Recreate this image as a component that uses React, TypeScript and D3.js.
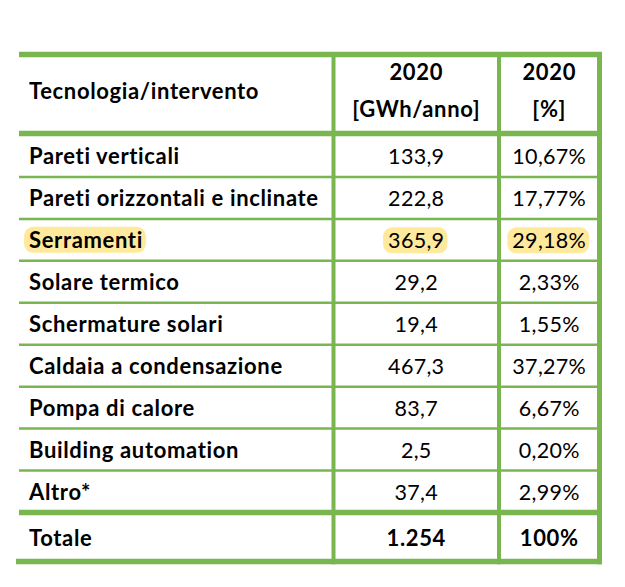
import React, { useEffect, useRef } from "react";
import * as d3 from "d3";

// Table contents
const headerLabel = "Tecnologia/intervento";
const headerYears = ["2020", "2020"];
const headerUnits = ["[GWh/anno]", "[%]"];

const technologies = [
  "Pareti verticali",
  "Pareti orizzontali e inclinate",
  "Serramenti",
  "Solare termico",
  "Schermature solari",
  "Caldaia a condensazione",
  "Pompa di calore",
  "Building automation",
  "Altro*",
];
const energyGwh = [133.9, 222.8, 365.9, 29.2, 19.4, 467.3, 83.7, 2.5, 37.4];
const sharePct = [10.67, 17.77, 29.18, 2.33, 1.55, 37.27, 6.67, 0.2, 2.99];

const totalLabel = "Totale";
const totalGwh = 1254;
const totalPct = 100;

const highlighted = ["Serramenti"];

const itLocale = d3.formatLocale({
  decimal: ",",
  thousands: ".",
  grouping: [3],
  currency: ["", " €"],
});
const fmtGwh = itLocale.format(",.1f");
const fmtPct = (v: number) => itLocale.format(",.2f")(v) + "%";
const fmtTotal = itLocale.format(",.0f");

const GREEN = "#7AB650";
const HILITE = "#FFE99C";
const FONT = "Lato, 'Open Sans', sans-serif";

const App = () => {
  const svgRef = useRef<SVGSVGElement>(null);

  useEffect(() => {
    const svg = d3.select(svgRef.current);
    svg.selectAll("*").remove();

    const width = 625;
    const height = 587;
    const tableLeft = 19;
    const tableRight = 602;
    const cols = [tableLeft, 333.5, 499, 599.5];
    const topY = 54.5;
    const headBottomY = 133.5;
    const bodyTop = 135;
    const bodyBottom = 512.5;
    const bottomY = 561.5;

    const y = d3.scaleBand<string>().domain(technologies).range([bodyTop, bodyBottom]);
    const colCenter = [0, (cols[1] + cols[2]) / 2, (cols[2] + cols[3]) / 2];
    const textX = 29;

    // bold / regular text styles
    const bold = (s: d3.Selection<SVGTextElement, any, any, any>) =>
      s.attr("font-weight", 700).attr("font-size", 22).attr("letter-spacing", 0.65);
    const plain = (s: d3.Selection<SVGTextElement, any, any, any>) =>
      s.attr("font-weight", 400).attr("font-size", 21.5).attr("letter-spacing", 0.3);

    svg.append("rect").attr("width", width).attr("height", height).attr("fill", "#fff");

    const hlLayer = svg.append("g");
    const textLayer = svg
      .append("g")
      .attr("font-family", FONT)
      .style("font-variant-ligatures", "none")
      .attr("fill", "#000");

    // Header
    textLayer.append("text").attr("x", textX).attr("y", 99).call(bold).text(headerLabel);
    headerYears.forEach((t, i) => {
      textLayer
        .append("text")
        .attr("x", colCenter[i + 1])
        .attr("y", 80)
        .attr("text-anchor", "middle")
        .call(bold)
        .text(t);
      textLayer
        .append("text")
        .attr("x", colCenter[i + 1])
        .attr("y", 116.5)
        .attr("text-anchor", "middle")
        .call(bold)
        .text(headerUnits[i]);
    });

    // Body rows
    const rows = textLayer
      .selectAll("g.row")
      .data(technologies)
      .enter()
      .append("g")
      .attr("class", "row")
      .attr("transform", (d) => `translate(0,${y(d)! + y.bandwidth() / 2 + 8.5})`);

    rows
      .append("text")
      .attr("x", textX)
      .call(bold)
      .attr("class", (d) => (highlighted.includes(d) ? "hl" : null))
      .text((d) => d);
    rows
      .append("text")
      .attr("x", colCenter[1])
      .attr("text-anchor", "middle")
      .call(plain)
      .attr("class", (d) => (highlighted.includes(d) ? "hl" : null))
      .text((d, i) => fmtGwh(energyGwh[i]));
    rows
      .append("text")
      .attr("x", colCenter[2])
      .attr("text-anchor", "middle")
      .call(plain)
      .attr("class", (d) => (highlighted.includes(d) ? "hl" : null))
      .text((d, i) => fmtPct(sharePct[i]));

    // Total row
    const totalBase = (bodyBottom + bottomY) / 2 + 8.5;
    textLayer.append("text").attr("x", textX).attr("y", totalBase).call(bold).text(totalLabel);
    textLayer
      .append("text")
      .attr("x", colCenter[1])
      .attr("y", totalBase)
      .attr("text-anchor", "middle")
      .call(bold)
      .text(fmtTotal(totalGwh));
    textLayer
      .append("text")
      .attr("x", colCenter[2])
      .attr("y", totalBase)
      .attr("text-anchor", "middle")
      .call(bold)
      .text(itLocale.format(".0f")(totalPct) + "%");

    // Yellow highlight behind marked cells
    textLayer.selectAll<SVGTextElement, unknown>("text.hl").each(function () {
      const b = this.getBBox();
      const m = (this.parentNode as SVGGElement).transform.baseVal.consolidate();
      const ty = m ? m.matrix.f : 0;
      hlLayer
        .append("rect")
        .attr("x", b.x - 5)
        .attr("y", ty + b.y + b.height / 2 - 13)
        .attr("width", b.width + 8)
        .attr("height", 26)
        .attr("rx", 9)
        .attr("fill", HILITE);
    });

    // Grid lines
    const lines = svg.append("g").attr("stroke", GREEN);
    lines
      .selectAll("line.thin")
      .data(technologies.slice(1))
      .enter()
      .append("line")
      .attr("x1", tableLeft)
      .attr("x2", tableRight)
      .attr("y1", (d) => y(d)!)
      .attr("y2", (d) => y(d)!)
      .attr("stroke-width", 2.5);
    lines
      .selectAll("line.thick")
      .data([
        { y: topY, x1: tableLeft },
        { y: headBottomY, x1: tableLeft },
        { y: bodyBottom, x1: tableLeft },
        { y: bottomY, x1: 16 },
      ])
      .enter()
      .append("line")
      .attr("x1", (d) => d.x1)
      .attr("x2", tableRight)
      .attr("y1", (d) => d.y)
      .attr("y2", (d) => d.y)
      .attr("stroke-width", 5.5);
    lines
      .selectAll("line.vert")
      .data(cols.slice(1))
      .enter()
      .append("line")
      .attr("x1", (d) => d)
      .attr("x2", (d) => d)
      .attr("y1", topY - 2.5)
      .attr("y2", bottomY + 2.75)
      .attr("stroke-width", (d, i) => (i === 2 ? 5 : 4));
  }, []);

  return (
    <svg
      ref={svgRef}
      width={625}
      height={587}
      style={{ position: "absolute", left: 0, top: 0, display: "block" }}
    ></svg>
  );
};

export default App;
